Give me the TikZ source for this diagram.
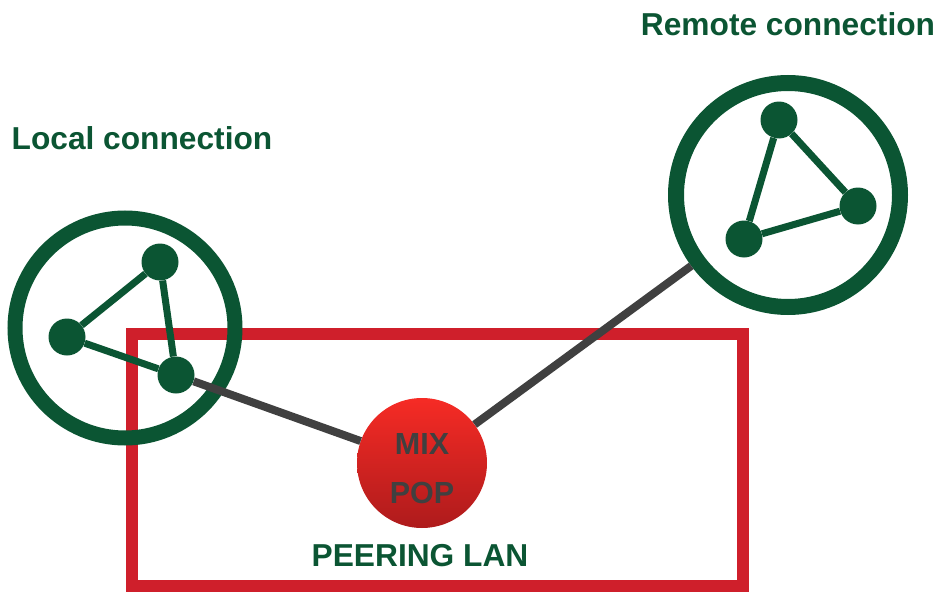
\documentclass[tikz,border=0pt]{standalone}
\usepackage{fontspec}
\setmainfont{Liberation Sans}
\usetikzlibrary{shapes,arrows}
\definecolor{mixgreen}{HTML}{0B5533}
\definecolor{lanred}{HTML}{CF1F2B}
\definecolor{cablegray}{HTML}{404040}
\definecolor{poptop}{HTML}{F62B25}
\definecolor{popbot}{HTML}{AE1B1C}
\tikzstyle{every picture}=[x=1pt, y=-1pt]
\tikzstyle{ring}=[circle, draw=mixgreen, inner sep=0pt]
\tikzstyle{router}=[circle, fill=mixgreen, inner sep=0pt, minimum size=37pt]
\tikzstyle{link}=[draw=mixgreen, line width=7pt]
\tikzstyle{uplink}=[draw=cablegray, line width=8pt]
\tikzstyle{caption}=[text=mixgreen, inner sep=0pt, font=\fontsize{31.7}{37}\selectfont\bfseries]
\tikzstyle{poptext}=[text=cablegray, inner sep=0pt, font=\fontsize{30.5}{36}\selectfont\bfseries]

\begin{document}
\begin{tikzpicture}
	\useasboundingbox (0,0) rectangle (940,594);
	% peering LAN
	\draw[lanred, line width=12pt] (132,334) rectangle (743,586);
	\node[caption] (lan) at (420,556) {PEERING LAN};
	% the two member networks
	\node[ring, line width=15pt, minimum size=220pt] (local) at (125,328) {};
	\node[ring, line width=16pt, minimum size=224pt] (remote) at (788,195) {};
	\node[router] (l1) at (160,262) {};
	\node[router] (l2) at (67,337) {};
	\node[router] (l3) at (176,375) {};
	\node[router] (r1) at (779,120) {};
	\node[router] (r2) at (858,206) {};
	\node[router] (r3) at (744,239) {};
	\foreach \a/\b in {l1/l2,l2/l3,l3/l1,r1/r2,r2/r3,r3/r1}
		\path[link] (\a) -- (\b);
	% MIX point of presence
	\node[circle, minimum size=130pt, inner sep=0pt, top color=poptop, bottom color=popbot] (mix) at (422,463) {};
	\path[uplink] (l3) -- (mix);
	\path[uplink] (mix) -- (remote);
	\node[poptext] (mixname) at (422,444) {MIX};
	\node[poptext] (popname) at (422,493) {POP};
	\node[caption] (loccap) at (142,138) {Local connection};
	\node[caption] (remcap) at (788,24) {Remote connection};
\end{tikzpicture}
\end{document}
